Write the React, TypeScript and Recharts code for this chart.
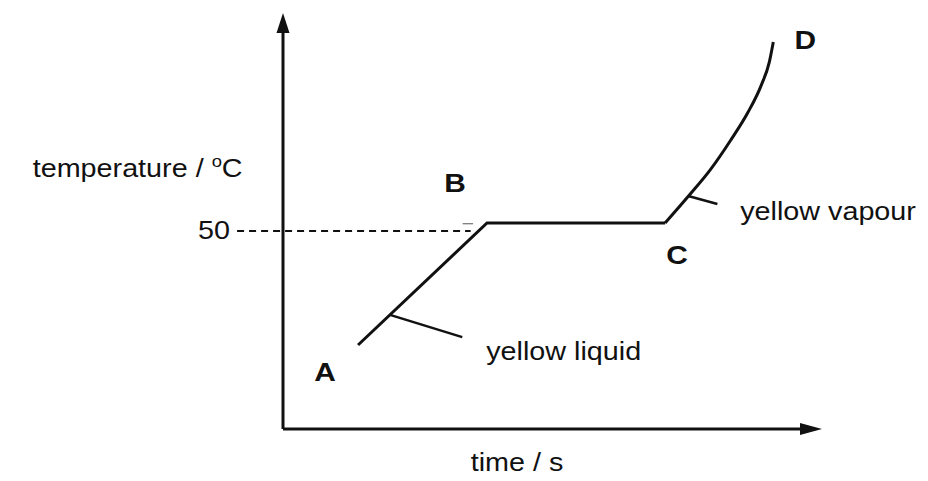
import React from 'react';
import { LineChart, Line, XAxis, YAxis, ReferenceLine, ReferenceDot } from 'recharts';

// A -> B -> C : liquid warming up, then boiling plateau
const liquidTime = [18.8, 51.1, 95.7];
const liquidTemp = [21.2, 52, 52];

// C -> D : vapour heating up
const vapourTime = [95.7, 102, 107, 112, 116.5, 119.8, 121.8, 122.8];
const vapourTemp = [52, 59.3, 65.4, 72.7, 80, 86.8, 92.6, 97.7];

const boilingPoint = 50;
const tempTicks = ['50'];
const pointNames = ['A', 'B', 'C', 'D'];

const liquid = liquidTime.map((t, i) => ({ time: t, temp: liquidTemp[i] }));
const vapour = vapourTime.map((t, i) => ({ time: t, temp: vapourTemp[i] }));

// where the annotations sit, in chart units
const pointAnchors = [
    { time: 10.5, temp: 14.4 },
    { time: 43.1, temp: 62.1 },
    { time: 98.7, temp: 43.9 },
    { time: 130.8, temp: 98.2 },
];

const FONT = '"Liberation Sans", Arial, sans-serif';
const INK = '#111';

const Txt = ({ cx, cy, children, anchor = 'middle', bold = false, size = 25 }: any) => (
    <text
        transform={`translate(${cx},${cy}) scale(1.15,1)`}
        textAnchor={anchor}
        dominantBaseline="central"
        fontFamily={FONT}
        fontSize={size}
        fontWeight={bold ? 700 : 400}
        fill={INK}
    >
        {children}
    </text>
);

const App: React.FC = () => {
    return (
        <div style={{ position: 'absolute', left: 0, top: 0, background: '#fff' }}>
            <LineChart width={928} height={481} margin={{ top: 13, right: 106, bottom: 52, left: 283 }}>
                <XAxis type="number" dataKey="time" domain={[0, 135]} hide allowDataOverflow />
                <YAxis type="number" domain={[0, 105]} hide allowDataOverflow />

                {/* axes with arrow heads */}
                <ReferenceLine segment={[{ x: 0, y: 0 }, { x: 130, y: 0 }]} stroke={INK} strokeWidth={3} ifOverflow="visible" />
                <ReferenceLine segment={[{ x: 0, y: 0 }, { x: 0, y: 100 }]} stroke={INK} strokeWidth={3} ifOverflow="visible" />
                <ReferenceDot
                    x={135}
                    y={0}
                    ifOverflow="visible"
                    shape={(p: any) => (
                        <polygon points={`${p.cx},${p.cy} ${p.cx - 22},${p.cy - 6} ${p.cx - 22},${p.cy + 6}`} fill={INK} />
                    )}
                />
                <ReferenceDot
                    x={0}
                    y={105}
                    ifOverflow="visible"
                    shape={(p: any) => (
                        <polygon points={`${p.cx},${p.cy} ${p.cx - 6.5},${p.cy + 20} ${p.cx + 6.5},${p.cy + 20}`} fill={INK} />
                    )}
                />

                {/* dashed guide to the boiling point */}
                <ReferenceLine
                    segment={[{ x: -11.5, y: boilingPoint }, { x: 47, y: boilingPoint }]}
                    stroke={INK}
                    strokeWidth={2}
                    strokeDasharray="7 5"
                    ifOverflow="visible"
                />
                <ReferenceLine segment={[{ x: 45, y: 51.8 }, { x: 47.6, y: 51.8 }]} stroke="#555" strokeWidth={1} ifOverflow="visible" />
                <ReferenceDot
                    x={-13.3}
                    y={boilingPoint}
                    ifOverflow="visible"
                    shape={(p: any) => <Txt cx={p.cx} cy={p.cy} anchor="end">{tempTicks[0]}</Txt>}
                />

                {/* pointer strokes to the phase labels */}
                <ReferenceLine segment={[{ x: 26.8, y: 28.8 }, { x: 44.9, y: 23.2 }]} stroke={INK} strokeWidth={2.5} ifOverflow="visible" />
                <ReferenceLine segment={[{ x: 101.5, y: 58.8 }, { x: 108.8, y: 56.8 }]} stroke={INK} strokeWidth={2.5} ifOverflow="visible" />

                <Line data={liquid} dataKey="temp" type="linear" stroke={INK} strokeWidth={3} dot={false} isAnimationActive={false} />
                <Line data={vapour} dataKey="temp" type="monotone" stroke={INK} strokeWidth={3} dot={false} isAnimationActive={false} />

                {pointNames.map((name, i) => (
                    <ReferenceDot
                        key={name}
                        x={pointAnchors[i].time}
                        y={pointAnchors[i].temp}
                        ifOverflow="visible"
                        shape={(p: any) => <Txt cx={p.cx} cy={p.cy} bold size={26}>{name}</Txt>}
                    />
                ))}

                <ReferenceDot
                    x={50.9}
                    y={19.4}
                    ifOverflow="visible"
                    shape={(p: any) => <Txt cx={p.cx} cy={p.cy} anchor="start">yellow liquid</Txt>}
                />
                <ReferenceDot
                    x={114.5}
                    y={54.8}
                    ifOverflow="visible"
                    shape={(p: any) => <Txt cx={p.cx} cy={p.cy} anchor="start">yellow vapour</Txt>}
                />

                {/* axis titles */}
                <ReferenceDot
                    x={-62.7}
                    y={65.6}
                    ifOverflow="visible"
                    shape={(p: any) => (
                        <Txt cx={p.cx} cy={p.cy} anchor="start">
                            temperature / <tspan fontSize={16} dy={-8}>o</tspan>
                            <tspan dy={8}>C</tspan>
                        </Txt>
                    )}
                />
                <ReferenceDot
                    x={58.6}
                    y={-8.6}
                    ifOverflow="visible"
                    shape={(p: any) => <Txt cx={p.cx} cy={p.cy}>time / s</Txt>}
                />
            </LineChart>
        </div>
    );
};

export default App;
